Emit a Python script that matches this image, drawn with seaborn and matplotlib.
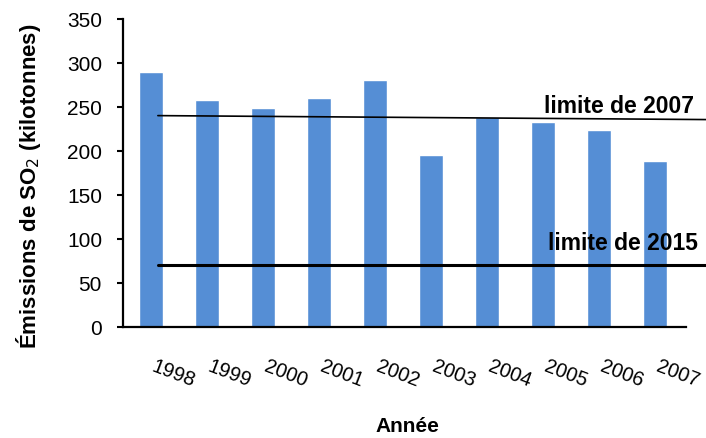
import matplotlib
matplotlib.use("Agg")
import matplotlib.pyplot as plt
import matplotlib.transforms as mtransforms
import seaborn as sns
import pandas as pd

# Annual SO2 emissions (kilotonnes)
years = ["1998", "1999", "2000", "2001", "2002", "2003", "2004", "2005", "2006", "2007"]
emissions = [290, 258, 249, 260, 281, 195, 238, 233, 224, 188]

# Regulatory limits: (start value, end value)
limit_2007 = [240, 235.5]
limit_2015 = [70, 70]
limit_labels = ["limite de 2007", "limite de 2015"]

sns.set_theme(style="white")
plt.rcParams["font.family"] = ["Liberation Sans", "DejaVu Sans"]
plt.rcParams["text.color"] = "black"
plt.rcParams["axes.labelcolor"] = "black"
plt.rcParams["xtick.color"] = "black"
plt.rcParams["ytick.color"] = "black"

df = pd.DataFrame({"Année": years, "Émissions": emissions})

fig = plt.figure(figsize=(7.06, 4.39), dpi=100)
ax = fig.add_axes([0.174, 0.253, 0.798, 0.702])

sns.barplot(data=df, x="Année", y="Émissions", color="#558ED5", saturation=1,
            width=0.43, ax=ax)

ax.set_ylim(0, 350)
ax.set_xlim(-0.5, 9.55)
ax.set_yticks(range(0, 351, 50))

# Limit lines run past the right edge of the axes
ax.plot([0.125, 9.91], limit_2007, color="black", lw=1.2, clip_on=False)
ax.plot([0.125, 9.91], limit_2015, color="black", lw=2.2, clip_on=False)
ax.text(9.68, 244, limit_labels[0], ha="right", va="baseline",
        fontsize=16.5, fontweight="bold", clip_on=False)
ax.text(9.75, 88, limit_labels[1], ha="right", va="baseline",
        fontsize=16.5, fontweight="bold", clip_on=False)

for side in ["top", "right"]:
    ax.spines[side].set_visible(False)
for side in ["left", "bottom"]:
    ax.spines[side].set_color("black")
    ax.spines[side].set_linewidth(1.6)

ax.tick_params(axis="y", which="both", left=True, length=4, width=1.5,
               color="black", pad=11, labelsize=15)
ax.tick_params(axis="x", bottom=False, pad=15, labelsize=14.5)
shift = mtransforms.ScaledTranslation(5 / 100, 0, fig.dpi_scale_trans)
for lab in ax.get_xticklabels():
    lab.set_rotation(-21)
    lab.set_rotation_mode("anchor")
    lab.set_ha("left")
    lab.set_va("top")
    lab.set_transform(lab.get_transform() + shift)

ax.set_ylabel("Émissions de SO$_2$ (kilotonnes)", fontsize=16, fontweight="bold")
ax.yaxis.set_label_coords(-0.142, 0.46)
ax.set_xlabel("Année", fontsize=15, fontweight="bold")
ax.xaxis.label.set_va("center")
ax.xaxis.set_label_coords(0.505, -0.32)

fig.savefig("out.png", dpi=100)
